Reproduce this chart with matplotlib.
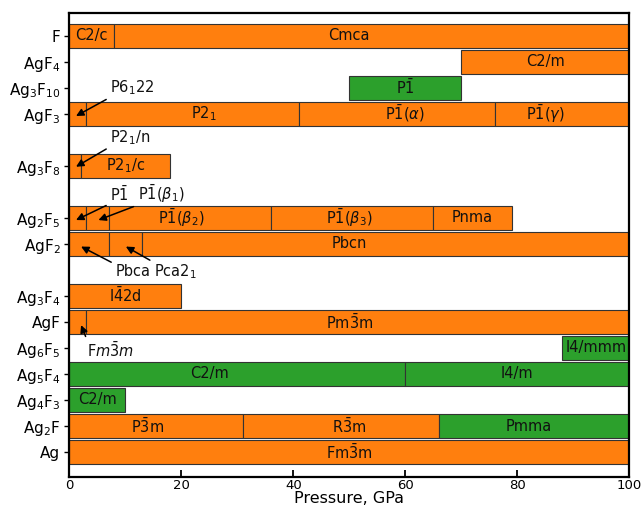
import matplotlib
matplotlib.use("Agg")
import matplotlib.pyplot as plt

# Compounds (y tick labels) and their row positions
compounds = ['Ag', 'Ag$_2$F', 'Ag$_4$F$_3$', 'Ag$_5$F$_4$', 'Ag$_6$F$_5$', 'AgF',
             'Ag$_3$F$_4$', 'AgF$_2$', 'Ag$_2$F$_5$', 'Ag$_3$F$_8$', 'AgF$_3$',
             'Ag$_3$F$_{10}$', 'AgF$_4$', 'F']
rows = [0, 1, 2, 3, 4, 5, 6, 8, 9, 11, 13, 14, 15, 16]

# Phase segments: compound, start pressure, end pressure, phase label, stability, label x
seg_compound = ['F', 'F',
                'AgF$_4$',
                'Ag$_3$F$_{10}$',
                'AgF$_3$', 'AgF$_3$', 'AgF$_3$', 'AgF$_3$',
                'Ag$_3$F$_8$', 'Ag$_3$F$_8$',
                'Ag$_2$F$_5$', 'Ag$_2$F$_5$', 'Ag$_2$F$_5$', 'Ag$_2$F$_5$', 'Ag$_2$F$_5$',
                'AgF$_2$', 'AgF$_2$', 'AgF$_2$',
                'Ag$_3$F$_4$',
                'AgF', 'AgF',
                'Ag$_6$F$_5$',
                'Ag$_5$F$_4$', 'Ag$_5$F$_4$',
                'Ag$_4$F$_3$',
                'Ag$_2$F', 'Ag$_2$F', 'Ag$_2$F',
                'Ag']
seg_start = [0, 8, 70, 50, 0, 3, 41, 76, 0, 2, 0, 3, 7, 36, 65, 0, 7, 13, 0, 0, 3,
             88, 0, 60, 0, 0, 31, 66, 0]
seg_end = [8, 100, 100, 70, 3, 41, 76, 100, 2, 18, 3, 7, 36, 65, 79, 7, 13, 100, 20,
           3, 100, 100, 60, 100, 10, 31, 66, 100, 100]
seg_label = ['C2/c', 'Cmca', 'C2/m', r'P$\bar{1}$',
             None, 'P2$_1$', r'P$\bar{1}(\alpha)$', r'P$\bar{1}(\gamma)$',
             None, 'P2$_1$/c',
             None, None, r'P$\bar{1}(\beta_2)$', r'P$\bar{1}(\beta_3)$', 'Pnma',
             None, None, 'Pbcn',
             r'I$\bar{4}$2d',
             None, r'Pm$\bar{3}$m',
             'I4/mmm',
             'C2/m', 'I4/m',
             'C2/m',
             r'P$\bar{3}$m', r'R$\bar{3}$m', 'Pmma',
             r'Fm$\bar{3}$m']
seg_stable = ['o', 'o', 'o', 'g', 'o', 'o', 'o', 'o', 'o', 'o', 'o', 'o', 'o', 'o', 'o',
              'o', 'o', 'o', 'o', 'o', 'o', 'g', 'g', 'g', 'g', 'o', 'o', 'g', 'o']
seg_label_x = [4, 50, 85, 60, None, 24, 60, 85, None, 10, None, None, 20, 50, 72,
               None, None, 50, 10, None, 50, 94, 25, 80, 5, 14, 50, 82, 50]

# Annotated narrow phases: label, arrow tip (pressure, row), text position (pressure, row)
ann_label = ['P6$_1$22', 'P2$_1$/n', r'P$\bar{1}$', r'P$\bar{1}(\beta_1)$',
             'Pbca', 'Pca2$_1$', r'F$m\bar{3}m$']
ann_tip_x = [1.2, 1.2, 1.2, 5.2, 2.1, 10.1, 2.1]
ann_tip_y = [12.92, 10.97, 8.92, 8.92, 7.9, 7.9, 4.88]
ann_text_x = [7.3, 7.3, 7.3, 12.2, 8.2, 15.1, 3.2]
ann_text_y = [14.0, 12.1, 9.92, 9.92, 6.93, 6.93, 3.92]
ann_below = [False, False, False, False, True, True, True]

colors = {'o': '#ff7f0e', 'g': '#2ca02c'}
row_of = dict(zip(compounds, rows))

fig = plt.figure(figsize=(6.43, 5.11), dpi=100)
ax = fig.add_axes([0.1078, 0.0671, 0.8709, 0.9084])

for c, s, e, lab, st, lx in zip(seg_compound, seg_start, seg_end, seg_label,
                                 seg_stable, seg_label_x):
    y = row_of[c]
    ax.barh(y, e - s, left=s, height=0.92, color=colors[st],
            edgecolor='#333333', linewidth=0.8)
    if lab is not None:
        ax.text(lx, y, lab, ha='center', va='center', fontsize=10.5, color='#111111')

for lab, tx, ty, sx, sy, below in zip(ann_label, ann_tip_x, ann_tip_y,
                                       ann_text_x, ann_text_y, ann_below):
    ax.annotate(lab, xy=(tx, ty), xytext=(sx, sy), textcoords='data',
                ha='left', va='center', fontsize=10.5, color='#111111',
                arrowprops=dict(arrowstyle='-|>', color='black', lw=1.1,
                                mutation_scale=11, shrinkA=1, shrinkB=0,
                                relpos=(0, 1) if below else (0, 0)))

ax.set_xlim(0, 100)
ax.set_ylim(-0.95, 16.9)
ax.set_yticks(rows)
ax.set_yticklabels(compounds, fontsize=11)
ax.set_xticks([0, 20, 40, 60, 80, 100])
ax.tick_params(axis='x', direction='in', length=5, width=1.3, labelsize=9.5, pad=2)
ax.tick_params(axis='y', direction='out', length=3.5, width=1.0, pad=3)
for sp in ax.spines.values():
    sp.set_linewidth(1.6)
ax.set_xlabel('Pressure, GPa', fontsize=11.5, labelpad=-1)

fig.savefig('out.png', dpi=100)
